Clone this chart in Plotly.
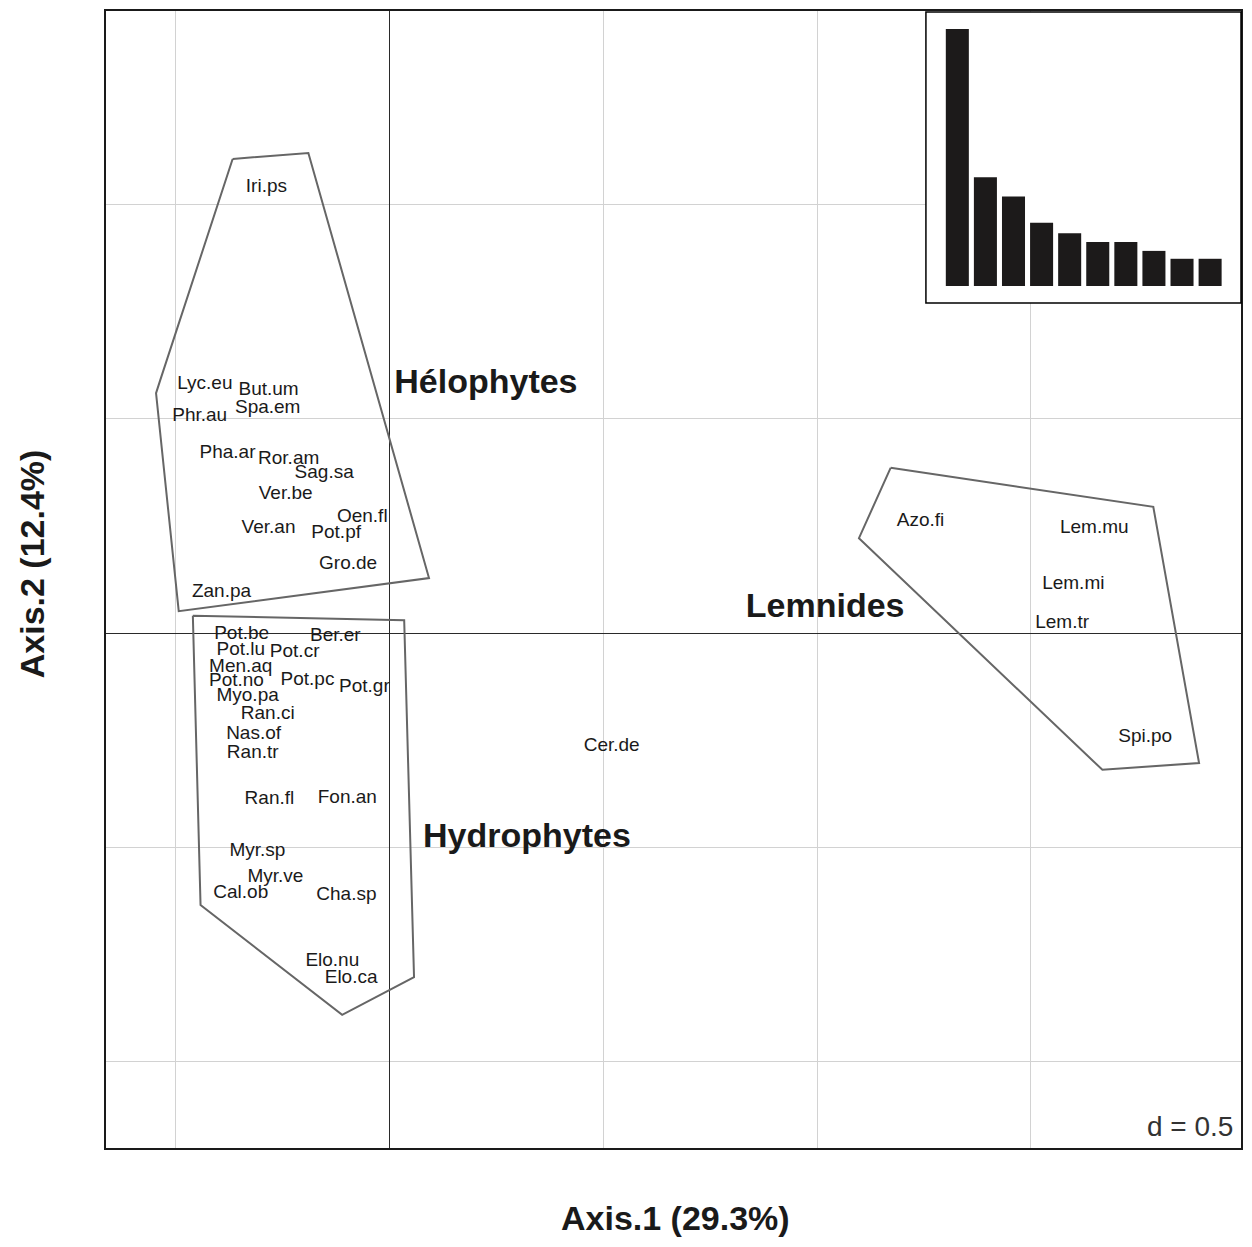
import plotly.graph_objects as go

# ---------------- data ----------------
helo_labels = ["Iri.ps", "Lyc.eu", "But.um", "Phr.au", "Spa.em", "Pha.ar", "Ror.am",
               "Sag.sa", "Ver.be", "Oen.fl", "Ver.an", "Pot.pf", "Gro.de", "Zan.pa"]
helo_x = [-0.287, -0.431, -0.282, -0.443, -0.284, -0.378, -0.235,
          -0.152, -0.242, -0.063, -0.282, -0.124, -0.096, -0.392]
helo_y = [1.040, 0.580, 0.566, 0.506, 0.524, 0.420, 0.406,
          0.373, 0.324, 0.270, 0.245, 0.233, 0.161, 0.096]

hydro_labels = ["Pot.be", "Ber.er", "Pot.lu", "Pot.cr", "Men.aq", "Pot.no", "Pot.pc",
                "Pot.gr", "Myo.pa", "Ran.ci", "Nas.of", "Ran.tr", "Ran.fl", "Fon.an",
                "Myr.sp", "Myr.ve", "Cal.ob", "Cha.sp", "Elo.nu", "Elo.ca"]
hydro_x = [-0.345, -0.126, -0.347, -0.221, -0.347, -0.357, -0.191,
           -0.058, -0.331, -0.284, -0.317, -0.319, -0.280, -0.098,
           -0.308, -0.266, -0.347, -0.100, -0.133, -0.089]
hydro_y = [-0.002, -0.007, -0.040, -0.044, -0.079, -0.112, -0.110,
           -0.126, -0.147, -0.189, -0.235, -0.280, -0.387, -0.385,
           -0.508, -0.569, -0.606, -0.611, -0.765, -0.804]

lemn_labels = ["Azo.fi", "Lem.mu", "Lem.mi", "Lem.tr", "Spi.po"]
lemn_x = [1.242, 1.648, 1.599, 1.573, 1.767]
lemn_y = [0.261, 0.245, 0.114, 0.023, -0.242]

other_labels = ["Cer.de"]
other_x = [0.520]
other_y = [-0.263]

# convex hull polygons (data units)
helo_hull_x = [-0.366, -0.189, 0.093, -0.492, -0.545, -0.536]
helo_hull_y = [1.105, 1.119, 0.128, 0.051, 0.559, 0.587]
hydro_hull_x = [-0.459, 0.035, 0.058, -0.110, -0.441]
hydro_hull_y = [0.040, 0.030, -0.802, -0.890, -0.634]
lemn_hull_x = [1.172, 1.786, 1.893, 1.667, 1.098]
lemn_hull_y = [0.385, 0.294, -0.303, -0.319, 0.221]

group_names = ["Hélophytes", "Lemnides", "Hydrophytes"]
group_x = [0.226, 1.019, 0.322]
group_y = [0.580, 0.058, -0.480]

eigen_rank = [1, 2, 3, 4, 5, 6, 7, 8, 9, 10]
eigen_values = [29.3, 12.4, 10.2, 7.2, 6.0, 5.0, 5.0, 4.0, 3.1, 3.1]

axis1_title = "Axis.1 (29.3%)"
axis2_title = "Axis.2 (12.4%)"
scale_label = "d = 0.5"

# ---------------- styling ----------------
FONT = "Liberation Sans, Arial, Helvetica, sans-serif"
TXT = "#1a1a1a"
HULL = "#666666"
# page body has an 8px margin: size the figure so the page fits the window
W, H = 1236, 1231
ML, MR, MT, MB = 98, 1, 3, 91

X_RANGE = [-0.662, 1.991]
Y_RANGE = [-1.2005, 1.4499]
INSET_X_RANGE = [-0.118, 11.1]
INSET_Y_RANGE = [-1.94, 31.24]
INSET_DOM_X = [0.7224, 1.0]
INSET_DOM_Y = [0.7432, 0.9991]

fig = go.Figure()

def closed(v):
    return list(v) + [v[0]]

for hx, hy in [(helo_hull_x, helo_hull_y), (hydro_hull_x, hydro_hull_y), (lemn_hull_x, lemn_hull_y)]:
    fig.add_trace(go.Scatter(x=closed(hx), y=closed(hy), mode="lines",
                             line=dict(color=HULL, width=2), hoverinfo="skip", showlegend=False))

for lx, ly, lt in [(helo_x, helo_y, helo_labels), (hydro_x, hydro_y, hydro_labels),
                   (lemn_x, lemn_y, lemn_labels), (other_x, other_y, other_labels)]:
    fig.add_trace(go.Scatter(x=lx, y=ly, text=lt, mode="text", textposition="middle center",
                             textfont=dict(family=FONT, size=19, color=TXT),
                             showlegend=False, hoverinfo="text"))

fig.add_trace(go.Scatter(x=group_x, y=group_y, text=group_names, mode="text",
                         textposition="middle center",
                         textfont=dict(family=FONT, size=34, color=TXT, weight="bold"),
                         showlegend=False, hoverinfo="skip"))

fig.add_trace(go.Bar(x=eigen_rank, y=eigen_values, marker=dict(color="#1c1a1a", line=dict(width=0)),
                     width=0.82, xaxis="x2", yaxis="y2", showlegend=False))

grid = dict(showgrid=True, gridcolor="#d2d2d2", gridwidth=1, dtick=0.5, tick0=0,
            zeroline=True, zerolinecolor="#2a2a2a", zerolinewidth=1,
            showticklabels=False, ticks="", showline=True, linecolor="#1a1a1a",
            linewidth=1.5, mirror=True)

fig.update_layout(
    width=W, height=H,
    margin=dict(l=ML, r=MR, t=MT, b=MB),
    paper_bgcolor="white", plot_bgcolor="white",
    xaxis=dict(range=X_RANGE, domain=[0, 1], **grid),
    yaxis=dict(range=Y_RANGE, domain=[0, 1], **grid),
    xaxis2=dict(range=INSET_X_RANGE, domain=INSET_DOM_X, anchor="y2", showgrid=False,
                zeroline=False, showticklabels=False, ticks="", showline=False),
    yaxis2=dict(range=INSET_Y_RANGE, domain=INSET_DOM_Y, anchor="x2", showgrid=False,
                zeroline=False, showticklabels=False, ticks="", showline=False),
    shapes=[
        dict(type="rect", xref="x2 domain", yref="y2 domain", x0=0, x1=1, y0=0, y1=1,
             fillcolor="white", line=dict(width=0), layer="below"),
        dict(type="rect", xref="x2 domain", yref="y2 domain", x0=0, x1=1, y0=0, y1=1,
             fillcolor="rgba(0,0,0,0)", line=dict(color="black", width=1.5), layer="above"),
    ],
    annotations=[
        dict(text=axis1_title, xref="paper", yref="paper", x=0.5018, y=-0.0615,
             xanchor="center", yanchor="middle", showarrow=False,
             font=dict(family=FONT, size=34, color=TXT, weight="bold")),
        dict(text=axis2_title, xref="paper", yref="paper", x=-0.065, y=0.5136,
             xanchor="center", yanchor="middle", showarrow=False, textangle=-90,
             font=dict(family=FONT, size=34, color=TXT, weight="bold")),
        dict(text=scale_label, xref="paper", yref="paper", x=0.9947, y=0.0185,
             xanchor="right", yanchor="middle", showarrow=False,
             font=dict(family=FONT, size=28, color="#333333")),
    ],
)

fig.write_html("out.html")
